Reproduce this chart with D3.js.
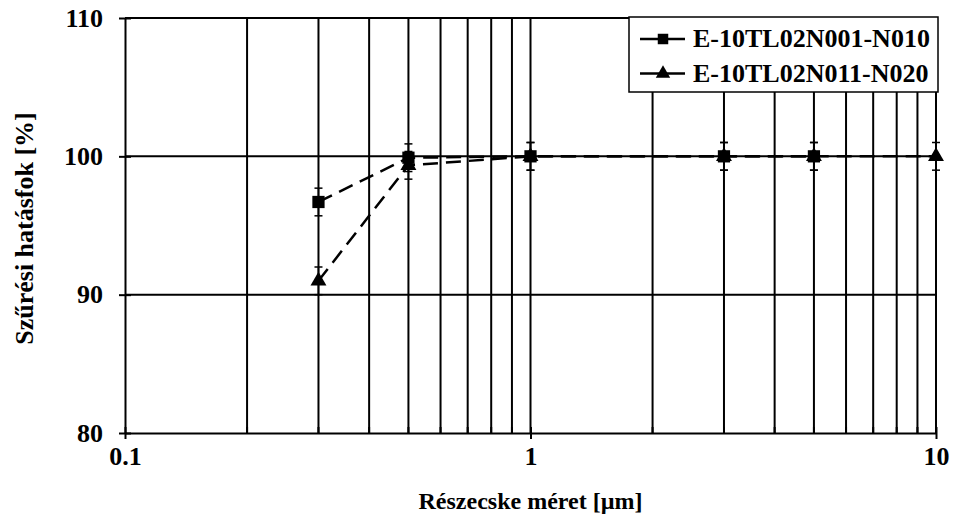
<!DOCTYPE html>
<html>
<head>
<meta charset="utf-8">
<script src="https://cdn.jsdelivr.net/npm/d3@7"></script>
<style>
body{margin:0;background:#fff;}
text{font-family:"Liberation Serif","Times New Roman",serif;font-weight:bold;fill:#000;}
</style>
</head>
<body>
<svg id="chart" width="955" height="524"></svg>
<script>
// particle sizes [um] and filtration efficiency [%]
var sizes1 = [0.3, 0.5, 1, 3, 5];
var eff1 = [96.7, 99.9, 100, 100, 100];
var err1 = [1, 1, 1, 1, 1];
var sizes2 = [0.3, 0.5, 1, 3, 5, 10];
var eff2 = [91.0, 99.35, 100, 100, 100, 100];
var err2 = [1, 1, 1, 1, 1, 1];
var names = ["E-10TL02N001-N010", "E-10TL02N011-N020"];
var yTicks = [80, 90, 100, 110];
var xTicks = [0.1, 1, 10];

var margin = {left:125, right:19, top:18, bottom:91};
var W = 955, H = 524;
var svg = d3.select("svg#chart");

var x = d3.scaleLog().domain([0.1, 10]).range([margin.left, W - margin.right]);
var y = d3.scaleLinear().domain([80, 110]).range([H - margin.bottom, margin.top]);

var minor = [];
[0.1, 1].forEach(function(d){
    for (var k = 2; k <= 9; k++) minor.push(+(d * k).toFixed(2));
});

// vertical grid
svg.append("g").selectAll("line").data(minor.concat([1, 10])).enter().append("line")
    .attr("x1", function(d){return x(d)}).attr("x2", function(d){return x(d)})
    .attr("y1", y(80)).attr("y2", y(110))
    .attr("stroke", "#000").attr("stroke-width", 2);
// horizontal grid
svg.append("g").selectAll("line").data([90, 100, 110]).enter().append("line")
    .attr("x1", x(0.1)).attr("x2", x(10))
    .attr("y1", function(d){return y(d)}).attr("y2", function(d){return y(d)})
    .attr("stroke", "#000").attr("stroke-width", 2);

// y axis
var yAxis = svg.append("g").attr("transform", "translate(" + x(0.1) + ",0)")
    .call(d3.axisLeft(y).tickValues(yTicks).tickSizeInner(6).tickSizeOuter(0).tickPadding(16));
yAxis.selectAll("line").attr("x2", 6).attr("x1", -6).attr("stroke-width", 2);
yAxis.select(".domain").attr("stroke-width", 2);
yAxis.selectAll("text").attr("font-size", 26).attr("font-family", "Liberation Serif").attr("font-weight", "bold");

// x axis
var xAxis = svg.append("g").attr("transform", "translate(0," + y(80) + ")")
    .call(d3.axisBottom(x).tickValues(xTicks).tickFormat(d3.format("")).tickSizeInner(6).tickSizeOuter(0).tickPadding(8));
xAxis.selectAll("line").attr("y1", -6).attr("y2", 6).attr("stroke-width", 2);
xAxis.select(".domain").attr("stroke-width", 2);
xAxis.selectAll("text").attr("font-size", 26).attr("font-family", "Liberation Serif").attr("font-weight", "bold");
xAxis.selectAll(".minor").data(minor).enter().append("line").attr("class", "minor")
    .attr("x1", function(d){return x(d)}).attr("x2", function(d){return x(d)})
    .attr("y1", -6).attr("y2", 0).attr("stroke", "#000").attr("stroke-width", 2);

// titles
svg.append("text").attr("x", (x(0.1) + x(10)) / 2).attr("y", 509).attr("text-anchor", "middle")
    .attr("font-size", 24).text("Részecske méret [µm]");
svg.append("text").attr("transform", "translate(33," + (y(95) + 3) + ") rotate(-90)")
    .attr("text-anchor", "middle").attr("font-size", 26).text("Szűrési hatásfok [%]");

var line = d3.line().x(function(d){return x(d[0])}).y(function(d){return y(d[1])});

function drawSeries(sizes, eff, err, shape) {
    var pts = sizes.map(function(d, i){return [d, eff[i], err[i]]});
    var g = svg.append("g");
    g.append("path").datum(pts).attr("d", line).attr("fill", "none")
        .attr("stroke", "#000").attr("stroke-width", 2.5).attr("stroke-dasharray", "15,8");
    pts.forEach(function(p){
        var cx = x(p[0]);
        g.append("line").attr("x1", cx).attr("x2", cx).attr("y1", y(p[1] - p[2])).attr("y2", y(p[1] + p[2]))
            .attr("stroke", "#000").attr("stroke-width", 1.5);
        [p[1] - p[2], p[1] + p[2]].forEach(function(v){
            g.append("line").attr("x1", cx - 4).attr("x2", cx + 4).attr("y1", y(v)).attr("y2", y(v))
                .attr("stroke", "#000").attr("stroke-width", 1.5);
        });
    });
    g.selectAll(".mk").data(pts).enter().append("path").attr("class", "mk")
        .attr("transform", function(d){return "translate(" + x(d[0]) + "," + y(d[1]) + ")"})
        .attr("d", d3.symbol().type(shape).size(shape === d3.symbolSquare ? 150 : 110))
        .attr("fill", "#000");
}
drawSeries(sizes2, eff2, err2, d3.symbolTriangle);
drawSeries(sizes1, eff1, err1, d3.symbolSquare);

// legend
var lg = svg.append("g").attr("transform", "translate(629,17)");
lg.append("rect").attr("width", 309).attr("height", 75).attr("fill", "#fff").attr("stroke", "#000").attr("stroke-width", 1.5);
[d3.symbolSquare, d3.symbolTriangle].forEach(function(s, i){
    var yy = 22 + i * 34.5;
    lg.append("line").attr("x1", 11).attr("x2", 56).attr("y1", yy).attr("y2", yy).attr("stroke", "#000").attr("stroke-width", 2.5);
    lg.append("path").attr("transform", "translate(34," + yy + ")")
        .attr("d", d3.symbol().type(s).size(s === d3.symbolSquare ? 110 : 90)).attr("fill", "#000");
    lg.append("text").attr("x", 64).attr("y", yy + 8).attr("font-size", 26).text(names[i]);
});
</script>
</body>
</html>
